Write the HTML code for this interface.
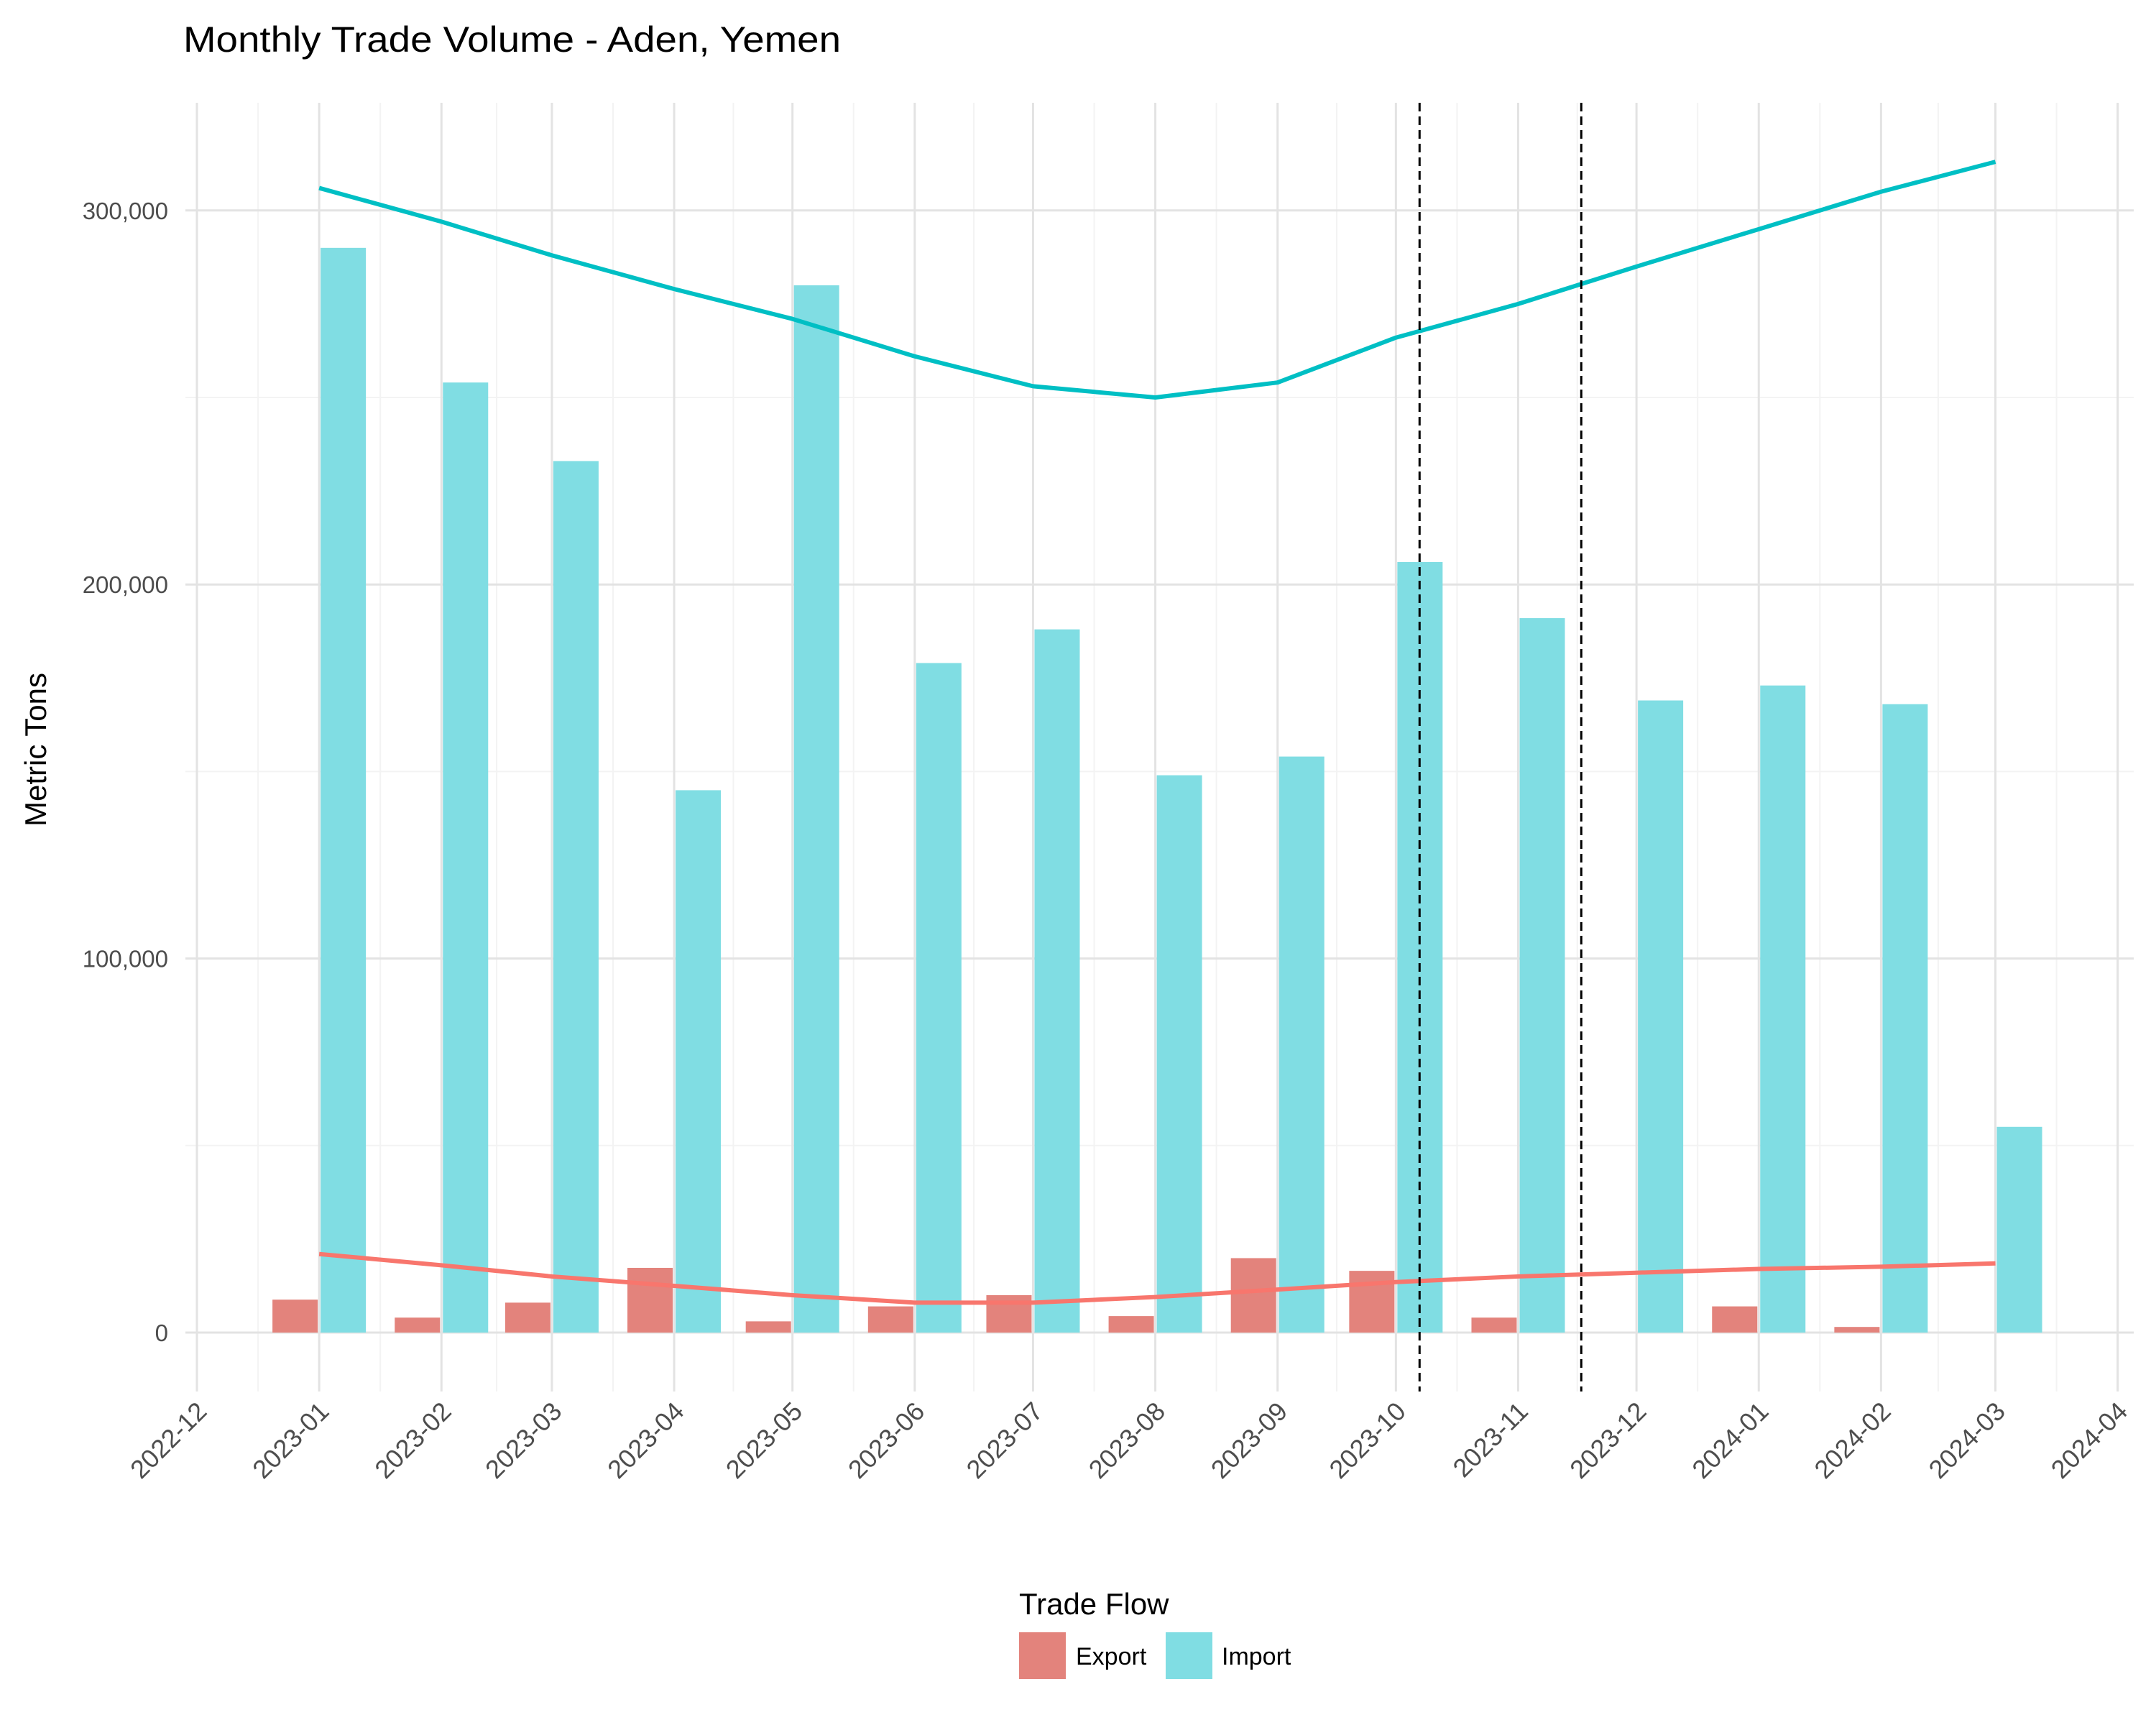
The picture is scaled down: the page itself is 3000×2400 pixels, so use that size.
<!DOCTYPE html>
<html><head><meta charset="utf-8"><style>
html,body{margin:0;padding:0;background:#fff;}
svg{display:block;font-family:"Liberation Sans",sans-serif;}
</style></head><body>
<svg id="chart" width="3000" height="2400" viewBox="0 0 3000 2400">
<text x="255" y="72" font-size="50" textLength="915" lengthAdjust="spacingAndGlyphs" fill="#000">Monthly Trade Volume - Aden, Yemen</text>
<text transform="translate(64,1043) rotate(-90)" text-anchor="middle" font-size="42" fill="#000">Metric Tons</text>
<g id="grid"></g><g id="bars"></g><g id="lines"></g><g id="vlines"></g><g id="axes"></g>
<g>
<text x="1418" y="2246" font-size="42" fill="#000">Trade Flow</text>
<rect x="1418" y="2271" width="65" height="65" fill="#e3837c"/>
<text x="1497" y="2316" font-size="34" fill="#000">Export</text>
<rect x="1622" y="2271" width="65" height="65" fill="#80dde3"/>
<text x="1700" y="2316" font-size="34" fill="#000">Import</text>
</g>
</svg>
<script>
const months = ["2023-01","2023-02","2023-03","2023-04","2023-05","2023-06","2023-07","2023-08","2023-09","2023-10","2023-11","2023-12","2024-01","2024-02","2024-03"];
const importValues = [290000,254000,233000,145000,280000,179000,188000,149000,154000,206000,191000,169000,173000,168000,55000];
const exportValues = [8800,4000,8000,17300,3000,7000,10000,4400,19900,16500,4000,null,7000,1500,null];
const importTrend = [306000,297000,288000,279000,271000,261000,253000,250000,254000,266000,275000,285000,295000,305000,313000];
const exportTrend = [21000,18000,15000,12500,10000,8000,8000,9500,11500,13500,15000,16000,17000,17600,18500];
const tickLabels = ["2022-12","2023-01","2023-02","2023-03","2023-04","2023-05","2023-06","2023-07","2023-08","2023-09","2023-10","2023-11","2023-12","2024-01","2024-02","2024-03","2024-04"];
const yTicks = [0,100000,200000,300000];
const eventDates = ["2023-10-07","2023-11-17"];

const NS="http://www.w3.org/2000/svg";
const t0=Date.UTC(2022,11,1);
function x(s){const p=s.split("-").map(Number);const d=Date.UTC(p[0],p[1]-1,p[2]||1);return 274+(d-t0)/86400000*5.488;}
function y(v){return 1854-v*520.4/100000;}
function mk(tag,attrs,parent){const e=document.createElementNS(NS,tag);for(const k in attrs)e.setAttribute(k,attrs[k]);document.getElementById(parent).appendChild(e);return e;}
const L=258,R=2969,T=143,B=1936;
for(let i=0;i<tickLabels.length-1;i++){const xm=(x(tickLabels[i])+x(tickLabels[i+1]))/2;
 const g=mk("line",{x1:xm,x2:xm,y1:T,y2:B,stroke:"#f3f3f3","stroke-width":2},"grid");
 
 }
for(let i=0;i<yTicks.length;i++){const ym=y(yTicks[i]+50000);
 if(ym<T) continue;
 const g=mk("line",{x1:L,x2:R,y1:ym,y2:ym,stroke:"#f3f3f3","stroke-width":2},"grid");
 
 }
tickLabels.forEach(t=>{const xv=x(t);
 const g=mk("line",{x1:xv,x2:xv,y1:T,y2:B,stroke:"#e3e3e3","stroke-width":3},"grid");
 
 
 const lb=mk("text",{transform:`translate(${xv-2},${B+12}) rotate(-45)`,"text-anchor":"end","font-size":36,fill:"#4d4d4d",dy:"0.7em"},"axes");
 lb.textContent=t;
 
 });
yTicks.forEach(v=>{const yv=y(v);
 const g=mk("line",{x1:L,x2:R,y1:yv,y2:yv,stroke:"#e3e3e3","stroke-width":3},"grid");
 
 
 const lb=mk("text",{x:234,y:yv+12,"text-anchor":"end","font-size":33,fill:"#4d4d4d"},"axes");
 lb.textContent=v.toLocaleString("en-US");
 
 });
const BW=63;
months.forEach((m,i)=>{const xm=x(m);
 if(exportValues[i]!=null){const r=mk("rect",{x:xm-BW-2,y:y(exportValues[i]),width:BW,height:y(0)-y(exportValues[i]),fill:"#e3837c"},"bars");
  
  }
 if(importValues[i]!=null){const r=mk("rect",{x:xm+2,y:y(importValues[i]),width:BW,height:y(0)-y(importValues[i]),fill:"#80dde3"},"bars");
  
  }});
function pts(arr){return months.map((m,i)=>x(m)+","+y(arr[i])).join(" ");}
const li=mk("polyline",{points:pts(importTrend),fill:"none",stroke:"#00BFC4","stroke-width":6,"stroke-linejoin":"round"},"lines");


const le=mk("polyline",{points:pts(exportTrend),fill:"none",stroke:"#F8766D","stroke-width":6,"stroke-linejoin":"round"},"lines");


eventDates.forEach(d=>{const xv=x(d);
 const v=mk("line",{x1:xv,x2:xv,y1:T,y2:B,stroke:"#000","stroke-width":3,"stroke-dasharray":"12,7"},"vlines");
 
 });
</script>
</body></html>
